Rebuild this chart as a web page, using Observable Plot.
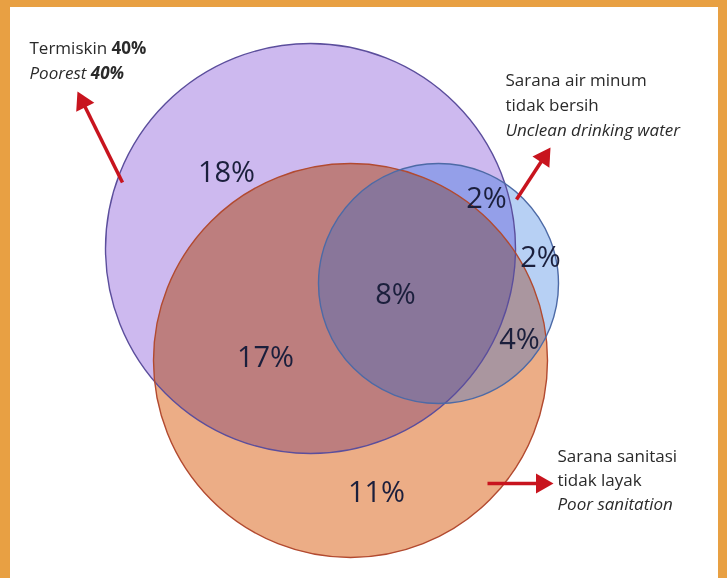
<!DOCTYPE html>
<html>
<head>
<meta charset="utf-8">
<script src="https://cdn.jsdelivr.net/npm/d3@7"></script>
<script src="https://cdn.jsdelivr.net/npm/@observablehq/plot@0.6"></script>
<style>
  html, body { margin: 0; padding: 0; background: #ffffff; }
  #chart svg { display: block; }
</style>
</head>
<body>
<div id="chart"></div>
<script>
// ---- Sets (Venn circles) ----
const setNames  = ["Termiskin 40% / Poorest 40%", "Sarana sanitasi tidak layak / Poor sanitation", "Sarana air minum tidak bersih / Unclean drinking water"];
const setCx     = [310, 350, 438];
const setCy     = [248, 360, 283];
const setR      = [205, 197, 120];
const setFill   = ["#cdb9ef", "#ecad86", "rgb(18,98,218)"];
const setStroke = ["#5b4e9c", "#b24a30", "#4d6aa6"];

// ---- Region shares ----
const regionText = ["18%", "17%", "8%", "2%", "2%", "4%", "11%"];
const regionX    = [226, 265, 395, 486, 540, 519, 376];
const regionY    = [172, 357, 294, 198, 257, 339, 492];

// ---- Set labels ----
const labelText = [
  "Termiskin **40%**", "_Poorest **40%**_",
  "Sarana air minum", "tidak bersih", "_Unclean drinking water_",
  "Sarana sanitasi", "tidak layak", "_Poor sanitation_"
];
const labelX = [29, 29, 505, 505, 505, 557, 557, 557];
const labelY = [48, 73, 80, 105, 130, 456, 480, 504];

// ---- Arrows (tail -> tip) ----
const arrowX1 = [122, 516, 487];
const arrowY1 = [182, 199, 483];
const arrowX2 = [77, 550, 553];
const arrowY2 = [91, 147, 483];

const sets = setNames.map((name, i) => ({name, x: setCx[i], y: setCy[i], r: setR[i], fill: setFill[i], stroke: setStroke[i]}));
const regions = regionText.map((t, i) => ({t, x: regionX[i], y: regionY[i]}));
const labels = labelText.map((t, i) => ({t, x: labelX[i], y: labelY[i]}));

const headR = 7.5;
const headOff = Math.sqrt((headR * headR * Math.PI) / (Math.sqrt(3) * 3));
const arrows = arrowX1.map((x1, i) => {
  const dx = arrowX2[i] - x1, dy = arrowY2[i] - arrowY1[i];
  const len = Math.hypot(dx, dy), ux = dx / len, uy = dy / len;
  return {
    x1, y1: arrowY1[i],
    cx: arrowX2[i] - ux * 2 * headOff, cy: arrowY2[i] - uy * 2 * headOff,
    rot: Math.atan2(dx, -dy) * 180 / Math.PI
  };
});

const frameColor = "#e8a043";
const red = "#c8141e";

const svg = Plot.plot({
  width: 727,
  height: 578,
  margin: 0,
  x: {domain: [0, 727], range: [0, 727], axis: null},
  y: {domain: [0, 578], range: [0, 578], axis: null},
  r: {type: "identity"},
  color: {type: "identity"},
  style: {background: frameColor, fontFamily: "'Open Sans', sans-serif", overflow: "visible"},
  marks: [
    Plot.rect([0], {x1: () => 10, x2: () => 718, y1: () => 7, y2: () => 590, fill: "#ffffff"}),
    Plot.dot(sets.slice(0, 2), {x: "x", y: "y", r: "r", fill: "fill", stroke: null, mixBlendMode: "multiply"}),
    Plot.dot(sets.slice(2), {x: "x", y: "y", r: "r", fill: "fill", fillOpacity: 0.3, stroke: null}),
    Plot.dot(sets, {x: "x", y: "y", r: "r", fill: "none", stroke: "stroke", strokeWidth: 1.4}),
    Plot.text(regions, {x: "x", y: "y", text: "t", fontSize: 29, fill: "#1b1f3c"}),
    Plot.link(arrows, {x1: "x1", y1: "y1", x2: "cx", y2: "cy", stroke: red, strokeWidth: 3.5}),
    Plot.dot(arrows, {x: "cx", y: "cy", symbol: "triangle", r: headR, rotate: "rot", fill: red, stroke: null}),
    Plot.text(labels, {x: "x", y: "y", text: "t", textAnchor: "start", fontSize: 17, fill: "#2a2a2a"})
  ]
});

// rich text: **bold**, _italic line_
svg.querySelectorAll("text").forEach(t => {
  let s = t.textContent;
  if (!s.includes("**") && !(s.startsWith("_") && s.endsWith("_"))) return;
  const italic = s.startsWith("_") && s.endsWith("_");
  if (italic) s = s.slice(1, -1);
  while (t.firstChild) t.removeChild(t.firstChild);
  s.split("**").forEach((part, i) => {
    if (!part) return;
    const ts = document.createElementNS("http://www.w3.org/2000/svg", "tspan");
    ts.textContent = part;
    if (i % 2 === 1) ts.setAttribute("font-weight", "bold");
    if (italic) ts.setAttribute("font-style", "italic");
    t.appendChild(ts);
  });
});

document.getElementById("chart").appendChild(svg);
</script>
</body>
</html>
